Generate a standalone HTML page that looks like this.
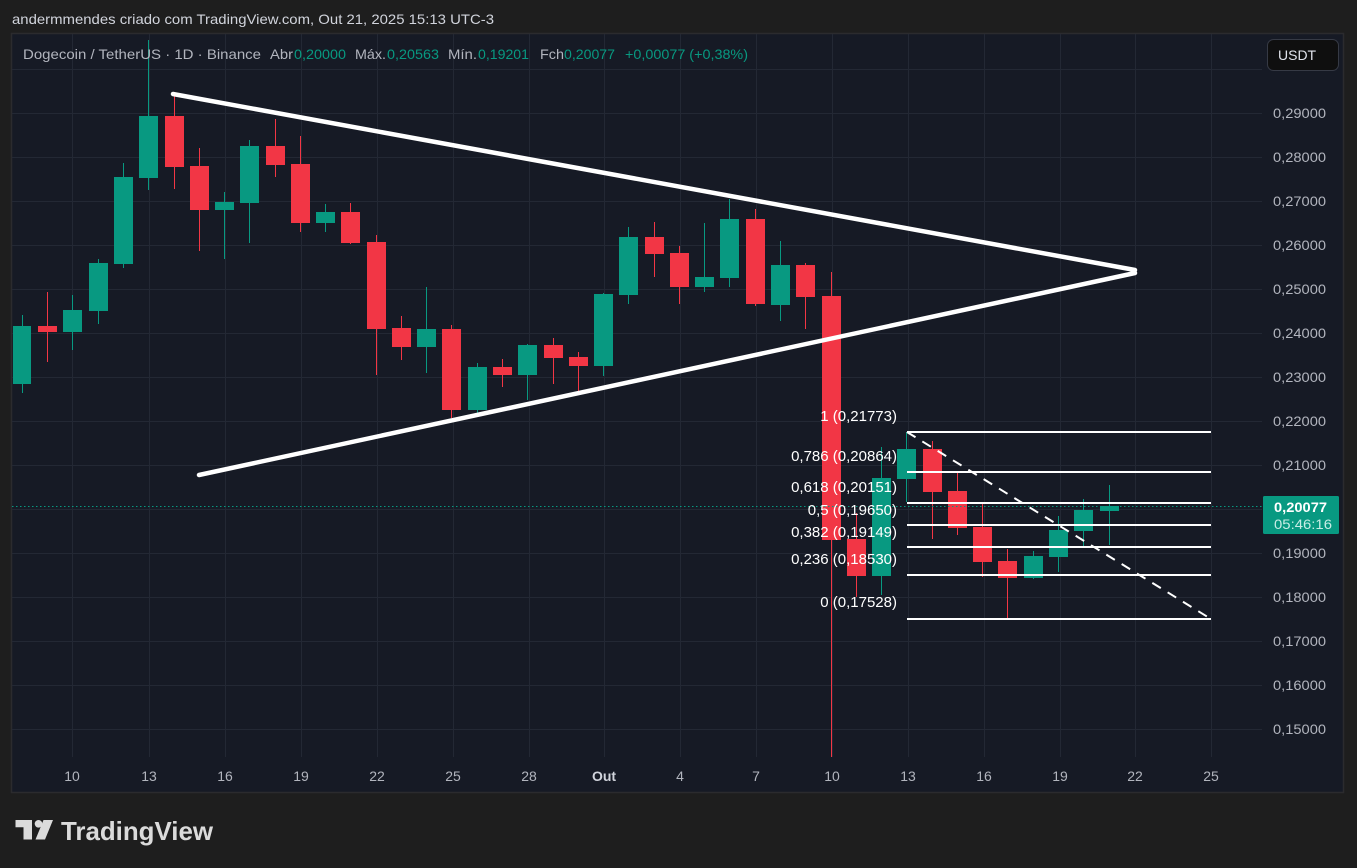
<!DOCTYPE html>
<html>
<head>
<meta charset="utf-8">
<style>
  html, body { margin:0; padding:0; background:#1e1e1e; }
  body { width:1357px; height:868px; overflow:hidden; }
  svg { display:block; }
  text { font-family:"Liberation Sans", sans-serif; }
</style>
</head>
<body>
<svg width="1357" height="868" viewBox="0 0 1357 868" xmlns="http://www.w3.org/2000/svg">
  <!-- outer background -->
  <rect x="0" y="0" width="1357" height="868" fill="#1e1e1e"/>
  <!-- title -->
  <text x="12" y="24" font-size="14" fill="#d1d4dc" textLength="482" lengthAdjust="spacingAndGlyphs">andermmendes criado com TradingView.com, Out 21, 2025 15:13 UTC-3</text>

  <!-- panel -->
  <rect x="11.5" y="33.5" width="1332" height="759" fill="#161a25" stroke="#2b2b2e" stroke-width="1.5"/>

  <!-- grid horizontal -->
  <g stroke="#232834" stroke-width="1">
    <line x1="12" y1="69.5" x2="1262" y2="69.5"/>
    <line x1="12" y1="113.5" x2="1262" y2="113.5"/>
    <line x1="12" y1="157.5" x2="1262" y2="157.5"/>
    <line x1="12" y1="201.5" x2="1262" y2="201.5"/>
    <line x1="12" y1="245.5" x2="1262" y2="245.5"/>
    <line x1="12" y1="289.5" x2="1262" y2="289.5"/>
    <line x1="12" y1="333.5" x2="1262" y2="333.5"/>
    <line x1="12" y1="377.5" x2="1262" y2="377.5"/>
    <line x1="12" y1="421.5" x2="1262" y2="421.5"/>
    <line x1="12" y1="465.5" x2="1262" y2="465.5"/>
    <line x1="12" y1="509.5" x2="1262" y2="509.5"/>
    <line x1="12" y1="553.5" x2="1262" y2="553.5"/>
    <line x1="12" y1="597.5" x2="1262" y2="597.5"/>
    <line x1="12" y1="641.5" x2="1262" y2="641.5"/>
    <line x1="12" y1="685.5" x2="1262" y2="685.5"/>
    <line x1="12" y1="729.5" x2="1262" y2="729.5"/>
  </g>
  <!-- grid vertical -->
  <g stroke="#232834" stroke-width="1">
    <line x1="72.5" y1="34" x2="72.5" y2="757"/>
    <line x1="149.5" y1="34" x2="149.5" y2="757"/>
    <line x1="225.5" y1="34" x2="225.5" y2="757"/>
    <line x1="301.5" y1="34" x2="301.5" y2="757"/>
    <line x1="377.5" y1="34" x2="377.5" y2="757"/>
    <line x1="453.5" y1="34" x2="453.5" y2="757"/>
    <line x1="529.5" y1="34" x2="529.5" y2="757"/>
    <line x1="604.5" y1="34" x2="604.5" y2="757"/>
    <line x1="680.5" y1="34" x2="680.5" y2="757"/>
    <line x1="756.5" y1="34" x2="756.5" y2="757"/>
    <line x1="832.5" y1="34" x2="832.5" y2="757"/>
    <line x1="908.5" y1="34" x2="908.5" y2="757"/>
    <line x1="984.5" y1="34" x2="984.5" y2="757"/>
    <line x1="1060.5" y1="34" x2="1060.5" y2="757"/>
    <line x1="1135.5" y1="34" x2="1135.5" y2="757"/>
    <line x1="1211.5" y1="34" x2="1211.5" y2="757"/>
  </g>

  <!-- candles: green -->
  <g fill="#089981">
    <rect x="22" y="315" width="1" height="78"/><rect x="13" y="326" width="18" height="58"/>
    <rect x="72" y="295" width="1" height="55"/><rect x="63" y="310" width="19" height="22"/>
    <rect x="98" y="259" width="1" height="65"/><rect x="89" y="263" width="19" height="48"/>
    <rect x="123" y="163" width="1" height="105"/><rect x="114" y="177" width="19" height="87"/>
    <rect x="148" y="40" width="1" height="150"/><rect x="139" y="116" width="19" height="62"/>
    <rect x="224" y="192" width="1" height="67"/><rect x="215" y="202" width="19" height="8"/>
    <rect x="249" y="140" width="1" height="103"/><rect x="240" y="146" width="19" height="57"/>
    <rect x="325" y="204" width="1" height="28"/><rect x="316" y="212" width="19" height="11"/>
    <rect x="426" y="287" width="1" height="86"/><rect x="417" y="329" width="19" height="18"/>
    <rect x="477" y="363" width="1" height="50"/><rect x="468" y="367" width="19" height="43"/>
    <rect x="527" y="344" width="1" height="56"/><rect x="518" y="345" width="19" height="30"/>
    <rect x="603" y="293" width="1" height="83"/><rect x="594" y="294" width="19" height="72"/>
    <rect x="628" y="227" width="1" height="77"/><rect x="619" y="237" width="19" height="58"/>
    <rect x="704" y="223" width="1" height="69"/><rect x="695" y="277" width="19" height="10"/>
    <rect x="729" y="199" width="1" height="88"/><rect x="720" y="219" width="19" height="59"/>
    <rect x="780" y="241" width="1" height="80"/><rect x="771" y="265" width="19" height="40"/>
    <rect x="881" y="447" width="1" height="148"/><rect x="872" y="478" width="19" height="98"/>
    <rect x="906" y="432" width="1" height="70"/><rect x="897" y="449" width="19" height="30"/>
    <rect x="1033" y="551" width="1" height="28"/><rect x="1024" y="556" width="19" height="22"/>
    <rect x="1058" y="516" width="1" height="56"/><rect x="1049" y="530" width="19" height="27"/>
    <rect x="1083" y="499" width="1" height="47"/><rect x="1074" y="510" width="19" height="21"/>
    <rect x="1109" y="485" width="1" height="60"/><rect x="1100" y="506" width="19" height="5"/>
  </g>
  <!-- candles: red -->
  <g fill="#f23645">
    <rect x="47" y="292" width="1" height="70"/><rect x="38" y="326" width="19" height="6"/>
    <rect x="174" y="95" width="1" height="94"/><rect x="165" y="116" width="19" height="51"/>
    <rect x="199" y="148" width="1" height="103"/><rect x="190" y="166" width="19" height="44"/>
    <rect x="275" y="119" width="1" height="58"/><rect x="266" y="146" width="19" height="19"/>
    <rect x="300" y="136" width="1" height="96"/><rect x="291" y="164" width="19" height="59"/>
    <rect x="350" y="203" width="1" height="41"/><rect x="341" y="212" width="19" height="31"/>
    <rect x="376" y="235" width="1" height="140"/><rect x="367" y="242" width="19" height="87"/>
    <rect x="401" y="316" width="1" height="44"/><rect x="392" y="328" width="19" height="19"/>
    <rect x="451" y="325" width="1" height="93"/><rect x="442" y="329" width="19" height="81"/>
    <rect x="502" y="359" width="1" height="28"/><rect x="493" y="367" width="19" height="8"/>
    <rect x="553" y="338" width="1" height="46"/><rect x="544" y="345" width="19" height="13"/>
    <rect x="578" y="352" width="1" height="40"/><rect x="569" y="357" width="19" height="9"/>
    <rect x="654" y="222" width="1" height="55"/><rect x="645" y="237" width="19" height="17"/>
    <rect x="679" y="246" width="1" height="58"/><rect x="670" y="253" width="19" height="34"/>
    <rect x="755" y="209" width="1" height="97"/><rect x="746" y="219" width="19" height="85"/>
    <rect x="805" y="263" width="1" height="66"/><rect x="796" y="265" width="19" height="32"/>
    <rect x="831" y="272" width="1" height="485"/><rect x="822" y="296" width="19" height="244"/>
    <rect x="856" y="513" width="1" height="84"/><rect x="847" y="539" width="19" height="37"/>
    <rect x="932" y="441" width="1" height="98"/><rect x="923" y="449" width="19" height="43"/>
    <rect x="957" y="473" width="1" height="62"/><rect x="948" y="491" width="19" height="37"/>
    <rect x="982" y="504" width="1" height="73"/><rect x="973" y="527" width="19" height="35"/>
    <rect x="1007" y="549" width="1" height="69"/><rect x="998" y="561" width="19" height="17"/>
  </g>

  <!-- triangle lines -->
  <g stroke="#ffffff" stroke-width="4.5" stroke-linecap="round">
    <line x1="173" y1="94" x2="1135" y2="270"/>
    <line x1="199" y1="475" x2="1135" y2="273"/>
  </g>

  <!-- current price dotted line -->
  <line x1="12" y1="506.5" x2="1262" y2="506.5" stroke="#089981" stroke-width="1" stroke-dasharray="1.5 2.5"/>

  <!-- fib levels -->
  <g stroke="#ffffff" stroke-width="2">
    <line x1="907" y1="432" x2="1211" y2="432"/>
    <line x1="907" y1="472" x2="1211" y2="472"/>
    <line x1="907" y1="503" x2="1211" y2="503"/>
    <line x1="907" y1="525" x2="1211" y2="525"/>
    <line x1="907" y1="547" x2="1211" y2="547"/>
    <line x1="907" y1="575" x2="1211" y2="575"/>
    <line x1="907" y1="619" x2="1211" y2="619"/>
    <line x1="907" y1="432" x2="1211" y2="619" stroke-dasharray="10 8"/>
  </g>
  <g font-size="15" fill="#ffffff" text-anchor="end">
    <text x="897" y="421">1 (0,21773)</text>
    <text x="897" y="461">0,786 (0,20864)</text>
    <text x="897" y="492">0,618 (0,20151)</text>
    <text x="897" y="515">0,5 (0,19650)</text>
    <text x="897" y="537">0,382 (0,19149)</text>
    <text x="897" y="564">0,236 (0,18530)</text>
    <text x="897" y="607">0 (0,17528)</text>
  </g>

  <!-- header legend -->
  <g font-size="14">
    <text x="23" y="59" fill="#b2b5be" textLength="238" lengthAdjust="spacingAndGlyphs">Dogecoin / TetherUS · 1D · Binance</text>
    <text x="270" y="59" fill="#b2b5be" textLength="23" lengthAdjust="spacingAndGlyphs">Abr</text>
    <text x="294" y="59" fill="#089981" textLength="52" lengthAdjust="spacingAndGlyphs">0,20000</text>
    <text x="355" y="59" fill="#b2b5be" textLength="31" lengthAdjust="spacingAndGlyphs">Máx.</text>
    <text x="387" y="59" fill="#089981" textLength="52" lengthAdjust="spacingAndGlyphs">0,20563</text>
    <text x="448" y="59" fill="#b2b5be" textLength="29" lengthAdjust="spacingAndGlyphs">Mín.</text>
    <text x="478" y="59" fill="#089981" textLength="51" lengthAdjust="spacingAndGlyphs">0,19201</text>
    <text x="540" y="59" fill="#b2b5be" textLength="24" lengthAdjust="spacingAndGlyphs">Fch</text>
    <text x="564" y="59" fill="#089981" textLength="51" lengthAdjust="spacingAndGlyphs">0,20077</text>
    <text x="625" y="59" fill="#089981" textLength="123" lengthAdjust="spacingAndGlyphs">+0,00077 (+0,38%)</text>
  </g>

  <!-- USDT button -->
  <rect x="1267.5" y="39.5" width="71" height="31" rx="6" fill="#0f0f0f" stroke="#363a45" stroke-width="1"/>
  <text x="1278" y="60" font-size="14" fill="#e0e3eb">USDT</text>

  <!-- price axis labels -->
  <g font-size="14" fill="#b2b5be">
    <text x="1273" y="118" textLength="53" lengthAdjust="spacingAndGlyphs">0,29000</text>
    <text x="1273" y="162" textLength="53" lengthAdjust="spacingAndGlyphs">0,28000</text>
    <text x="1273" y="206" textLength="53" lengthAdjust="spacingAndGlyphs">0,27000</text>
    <text x="1273" y="250" textLength="53" lengthAdjust="spacingAndGlyphs">0,26000</text>
    <text x="1273" y="294" textLength="53" lengthAdjust="spacingAndGlyphs">0,25000</text>
    <text x="1273" y="338" textLength="53" lengthAdjust="spacingAndGlyphs">0,24000</text>
    <text x="1273" y="382" textLength="53" lengthAdjust="spacingAndGlyphs">0,23000</text>
    <text x="1273" y="426" textLength="53" lengthAdjust="spacingAndGlyphs">0,22000</text>
    <text x="1273" y="470" textLength="53" lengthAdjust="spacingAndGlyphs">0,21000</text>
    <text x="1273" y="558" textLength="53" lengthAdjust="spacingAndGlyphs">0,19000</text>
    <text x="1273" y="602" textLength="53" lengthAdjust="spacingAndGlyphs">0,18000</text>
    <text x="1273" y="646" textLength="53" lengthAdjust="spacingAndGlyphs">0,17000</text>
    <text x="1273" y="690" textLength="53" lengthAdjust="spacingAndGlyphs">0,16000</text>
    <text x="1273" y="734" textLength="53" lengthAdjust="spacingAndGlyphs">0,15000</text>
  </g>

  <!-- current price box -->
  <rect x="1263" y="496" width="76" height="38" rx="1.5" fill="#089981"/>
  <text x="1274" y="512" font-size="14" font-weight="bold" fill="#ffffff" textLength="53" lengthAdjust="spacingAndGlyphs">0,20077</text>
  <text x="1274" y="529" font-size="14" fill="#c8ece5" textLength="58" lengthAdjust="spacingAndGlyphs">05:46:16</text>

  <!-- time axis labels -->
  <g font-size="14" fill="#b2b5be" text-anchor="middle">
    <text x="72" y="781">10</text>
    <text x="149" y="781">13</text>
    <text x="225" y="781">16</text>
    <text x="301" y="781">19</text>
    <text x="377" y="781">22</text>
    <text x="453" y="781">25</text>
    <text x="529" y="781">28</text>
    <text x="604" y="781" font-weight="bold" fill="#d1d4dc">Out</text>
    <text x="680" y="781">4</text>
    <text x="756" y="781">7</text>
    <text x="832" y="781">10</text>
    <text x="908" y="781">13</text>
    <text x="984" y="781">16</text>
    <text x="1060" y="781">19</text>
    <text x="1135" y="781">22</text>
    <text x="1211" y="781">25</text>
  </g>

  <!-- TradingView logo -->
  <g fill="#dbdbdb">
    <path d="M15.5 820 H32 V839.5 H23.5 V827.3 H15.5 Z"/>
    <circle cx="38.5" cy="823.8" r="3.8"/>
    <path d="M43.5 820 H53 L45 839.5 H35.5 Z"/>
  </g>
  <text x="61" y="840" font-size="26" font-weight="bold" fill="#dbdbdb" textLength="152" lengthAdjust="spacingAndGlyphs">TradingView</text>
</svg>
</body>
</html>
